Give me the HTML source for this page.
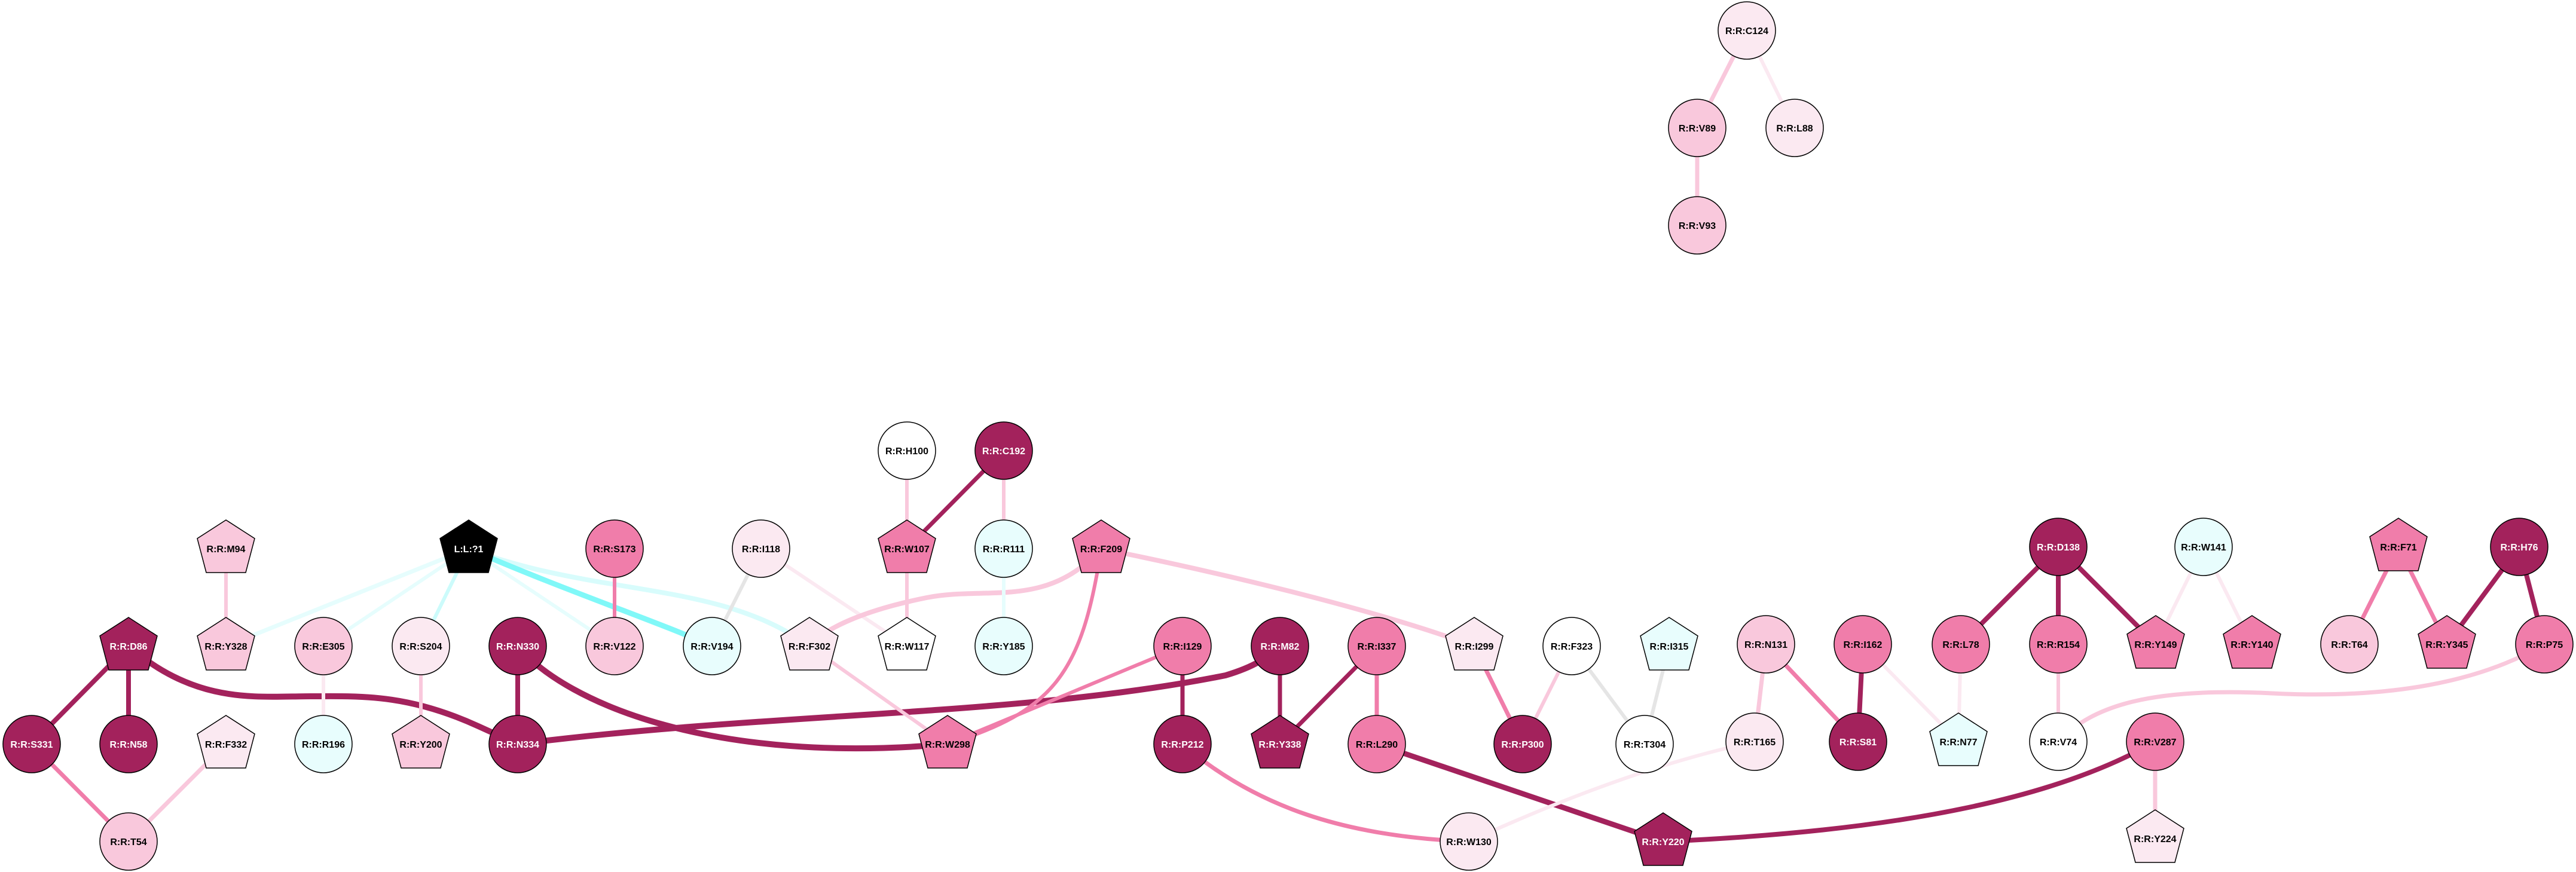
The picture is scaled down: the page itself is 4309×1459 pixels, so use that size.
<!DOCTYPE html>
<html><head><meta charset="utf-8"><style>
html,body{margin:0;padding:0;background:#fff}
svg{display:block}
text{font-family:"Liberation Sans",Arial,sans-serif;font-weight:bold;font-size:16px;text-anchor:middle}
.w{fill:#fff}
</style></head><body>
<svg width="4309" height="1459" viewBox="0 0 4309 1459" xmlns="http://www.w3.org/2000/svg">
<defs>
<polygon id="p" points="0,-48 48,-17 33,40 -33,40 -48,-17" stroke="#000" stroke-width="1.5"/>
</defs>
<g fill="none" stroke-linecap="butt">
<!-- ligand edges -->
<line x1="784" y1="918" x2="378" y2="1081" stroke="#e6fdfd" stroke-width="7"/>
<line x1="784" y1="918" x2="541" y2="1081" stroke="#e6fdfd" stroke-width="6"/>
<line x1="784" y1="918" x2="704" y2="1081" stroke="#ccfbfb" stroke-width="6"/>
<line x1="784" y1="918" x2="1028" y2="1081" stroke="#e6fdfd" stroke-width="6"/>
<path d="M784,918 C1000,1000 1200,970 1354,1081" stroke="#d8fcfc" stroke-width="8"/>
<path d="M784,918 C950,990 1100,1040 1191,1081" stroke="#80f8f8" stroke-width="9"/>
<line x1="378" y1="918" x2="378" y2="1081" stroke="#f9c8dc" stroke-width="6"/>
<line x1="1028" y1="918" x2="1028" y2="1081" stroke="#f07daa" stroke-width="6"/>
<line x1="1273" y1="918" x2="1191" y2="1081" stroke="#e5e5e5" stroke-width="6"/>
<line x1="1273" y1="918" x2="1517" y2="1081" stroke="#fbe9f1" stroke-width="6"/>
<line x1="215" y1="1081" x2="53" y2="1245" stroke="#a3225c" stroke-width="8"/>
<line x1="215" y1="1081" x2="215" y2="1245" stroke="#a3225c" stroke-width="8"/>
<path d="M215,1081 C330,1180 430,1165 520,1165 C600,1165 680,1160 800,1215 L866,1245" stroke="#a3225c" stroke-width="10"/>
<line x1="866" y1="1081" x2="866" y2="1245" stroke="#a3225c" stroke-width="8"/>
<path d="M866,1081 C950,1180 1200,1280 1585,1245" stroke="#a3225c" stroke-width="10"/>
<path d="M866,1245 C1300,1190 1700,1200 2050,1130 C2100,1115 2120,1100 2141,1081" stroke="#a3225c" stroke-width="10"/>
<line x1="53" y1="1245" x2="215" y2="1408" stroke="#f07daa" stroke-width="7"/>
<line x1="378" y1="1245" x2="215" y2="1408" stroke="#f9c8dc" stroke-width="7"/>
<line x1="541" y1="1081" x2="541" y2="1245" stroke="#fbe9f1" stroke-width="6"/>
<line x1="704" y1="1081" x2="704" y2="1245" stroke="#f9c8dc" stroke-width="6"/>
<line x1="1354" y1="1081" x2="1585" y2="1245" stroke="#f9c8dc" stroke-width="6"/>
<path d="M1842,918 C1750,1020 1650,980 1550,1000 C1450,1020 1380,1050 1354,1081" stroke="#f9c8dc" stroke-width="8"/>
<path d="M1842,918 C2050,960 2300,1020 2466,1081" stroke="#f9c8dc" stroke-width="8"/>
<path d="M1842,918 C1810,1130 1760,1190 1585,1245" stroke="#f07daa" stroke-width="6"/>
<line x1="1978" y1="1081" x2="1585" y2="1245" stroke="#f07daa" stroke-width="6"/>
<line x1="1978" y1="1081" x2="1978" y2="1245" stroke="#a3225c" stroke-width="7"/>
<line x1="2141" y1="1081" x2="2141" y2="1245" stroke="#a3225c" stroke-width="7"/>
<line x1="2303" y1="1081" x2="2141" y2="1245" stroke="#a3225c" stroke-width="7"/>
<line x1="2303" y1="1081" x2="2303" y2="1245" stroke="#f07daa" stroke-width="7"/>
<line x1="1517" y1="754" x2="1517" y2="918" stroke="#f9c8dc" stroke-width="6"/>
<line x1="1679" y1="754" x2="1517" y2="918" stroke="#a3225c" stroke-width="7"/>
<line x1="1679" y1="754" x2="1679" y2="918" stroke="#f9c8dc" stroke-width="6"/>
<line x1="1517" y1="918" x2="1517" y2="1081" stroke="#f9c8dc" stroke-width="6"/>
<line x1="1679" y1="918" x2="1679" y2="1081" stroke="#e6fdfd" stroke-width="6"/>
<line x1="2466" y1="1081" x2="2547" y2="1245" stroke="#f07daa" stroke-width="7"/>
<line x1="2629" y1="1081" x2="2547" y2="1245" stroke="#f9c8dc" stroke-width="6"/>
<line x1="2629" y1="1081" x2="2751" y2="1245" stroke="#e5e5e5" stroke-width="6"/>
<line x1="2792" y1="1081" x2="2751" y2="1245" stroke="#e5e5e5" stroke-width="6"/>
<path d="M1978,1245 C2100,1350 2250,1400 2457,1408" stroke="#f07daa" stroke-width="7"/>
<line x1="2303" y1="1245" x2="2782" y2="1408" stroke="#a3225c" stroke-width="9"/>
<path d="M2457,1408 C2650,1320 2800,1270 2935,1241" stroke="#fbe9f1" stroke-width="6"/>
<path d="M2782,1408 C3200,1390 3450,1330 3605,1241" stroke="#a3225c" stroke-width="8"/>
<line x1="2922" y1="51" x2="2839" y2="214" stroke="#f9c8dc" stroke-width="7"/>
<line x1="2922" y1="51" x2="3002" y2="214" stroke="#fbe9f1" stroke-width="6"/>
<line x1="2839" y1="214" x2="2839" y2="377" stroke="#f9c8dc" stroke-width="7"/>
<line x1="2954" y1="1078" x2="2935" y2="1241" stroke="#f9c8dc" stroke-width="7"/>
<line x1="2954" y1="1078" x2="3108" y2="1241" stroke="#f07daa" stroke-width="7"/>
<line x1="3116" y1="1078" x2="3108" y2="1241" stroke="#a3225c" stroke-width="8"/>
<line x1="3116" y1="1078" x2="3276" y2="1241" stroke="#fbe9f1" stroke-width="6"/>
<line x1="3280" y1="1078" x2="3276" y2="1241" stroke="#fbe9f1" stroke-width="6"/>
<line x1="3443" y1="915" x2="3280" y2="1078" stroke="#a3225c" stroke-width="8"/>
<line x1="3443" y1="915" x2="3443" y2="1078" stroke="#a3225c" stroke-width="8"/>
<line x1="3443" y1="915" x2="3606" y2="1078" stroke="#a3225c" stroke-width="8"/>
<line x1="3443" y1="1078" x2="3443" y2="1241" stroke="#f9c8dc" stroke-width="6"/>
<line x1="3686" y1="915" x2="3606" y2="1078" stroke="#fbe9f1" stroke-width="6"/>
<line x1="3686" y1="915" x2="3767" y2="1078" stroke="#fbe9f1" stroke-width="6"/>
<line x1="4012" y1="915" x2="3930" y2="1078" stroke="#f07daa" stroke-width="7"/>
<line x1="4012" y1="915" x2="4093" y2="1078" stroke="#f07daa" stroke-width="7"/>
<line x1="4214" y1="915" x2="4093" y2="1078" stroke="#a3225c" stroke-width="8"/>
<line x1="4214" y1="915" x2="4256" y2="1078" stroke="#a3225c" stroke-width="8"/>
<path d="M4256,1078 C4150,1140 4000,1170 3800,1160 C3600,1150 3500,1180 3443,1241" stroke="#f9c8dc" stroke-width="7"/>
<line x1="3605" y1="1241" x2="3605" y2="1403" stroke="#f9c8dc" stroke-width="7"/>
</g>
<g stroke="#000" stroke-width="1.5">
<!-- circles -->
<circle cx="1028" cy="918" r="48" fill="#f07daa"/>
<circle cx="1273" cy="918" r="48" fill="#fbe9f1"/>
<circle cx="541" cy="1081" r="48" fill="#f9c8dc"/>
<circle cx="704" cy="1081" r="48" fill="#fbe9f1"/>
<circle cx="866" cy="1081" r="48" fill="#a3225c"/>
<circle cx="1028" cy="1081" r="48" fill="#f9c8dc"/>
<circle cx="1191" cy="1081" r="48" fill="#e8fdfd"/>
<circle cx="53" cy="1245" r="48" fill="#a3225c"/>
<circle cx="215" cy="1245" r="48" fill="#a3225c"/>
<circle cx="541" cy="1245" r="48" fill="#e8fdfd"/>
<circle cx="866" cy="1245" r="48" fill="#a3225c"/>
<circle cx="215" cy="1408" r="48" fill="#f9c8dc"/>
<circle cx="1517" cy="754" r="48" fill="#fff"/>
<circle cx="1679" cy="754" r="48" fill="#a3225c"/>
<circle cx="1679" cy="918" r="48" fill="#e8fdfd"/>
<circle cx="1679" cy="1081" r="48" fill="#e8fdfd"/>
<circle cx="1978" cy="1081" r="48" fill="#f07daa"/>
<circle cx="2141" cy="1081" r="48" fill="#a3225c"/>
<circle cx="2303" cy="1081" r="48" fill="#f07daa"/>
<circle cx="2629" cy="1081" r="48" fill="#fff"/>
<circle cx="1978" cy="1245" r="48" fill="#a3225c"/>
<circle cx="2303" cy="1245" r="48" fill="#f07daa"/>
<circle cx="2547" cy="1245" r="48" fill="#a3225c"/>
<circle cx="2751" cy="1245" r="48" fill="#fff"/>
<circle cx="2457" cy="1408" r="48" fill="#fbe9f1"/>
<circle cx="2922" cy="51" r="48" fill="#fbe9f1"/>
<circle cx="2839" cy="214" r="48" fill="#f9c8dc"/>
<circle cx="3002" cy="214" r="48" fill="#fbe9f1"/>
<circle cx="2839" cy="377" r="48" fill="#f9c8dc"/>
<circle cx="3443" cy="915" r="48" fill="#a3225c"/>
<circle cx="3686" cy="915" r="48" fill="#e8fdfd"/>
<circle cx="4214" cy="915" r="48" fill="#a3225c"/>
<circle cx="2954" cy="1078" r="48" fill="#f9c8dc"/>
<circle cx="3116" cy="1078" r="48" fill="#f07daa"/>
<circle cx="3280" cy="1078" r="48" fill="#f07daa"/>
<circle cx="3443" cy="1078" r="48" fill="#f07daa"/>
<circle cx="3930" cy="1078" r="48" fill="#f9c8dc"/>
<circle cx="4256" cy="1078" r="48" fill="#f07daa"/>
<circle cx="2935" cy="1241" r="48" fill="#fbe9f1"/>
<circle cx="3108" cy="1241" r="48" fill="#a3225c"/>
<circle cx="3443" cy="1241" r="48" fill="#fff"/>
<circle cx="3605" cy="1241" r="48" fill="#f07daa"/>
</g>
<!-- pentagons -->
<use href="#p" x="378" y="918" fill="#f9c8dc"/>
<use href="#p" x="784" y="918" fill="#000"/>
<use href="#p" x="215" y="1081" fill="#a3225c"/>
<use href="#p" x="378" y="1081" fill="#f9c8dc"/>
<use href="#p" x="1354" y="1081" fill="#fbe9f1"/>
<use href="#p" x="378" y="1245" fill="#fbe9f1"/>
<use href="#p" x="704" y="1245" fill="#f9c8dc"/>
<use href="#p" x="1517" y="918" fill="#f07daa"/>
<use href="#p" x="1842" y="918" fill="#f07daa"/>
<use href="#p" x="1517" y="1081" fill="#fff"/>
<use href="#p" x="2466" y="1081" fill="#fbe9f1"/>
<use href="#p" x="2792" y="1081" fill="#e8fdfd"/>
<use href="#p" x="1585" y="1245" fill="#f07daa"/>
<use href="#p" x="2141" y="1245" fill="#a3225c"/>
<use href="#p" x="2782" y="1408" fill="#a3225c"/>
<use href="#p" x="4012" y="915" fill="#f07daa"/>
<use href="#p" x="3606" y="1078" fill="#f07daa"/>
<use href="#p" x="3767" y="1078" fill="#f07daa"/>
<use href="#p" x="4093" y="1078" fill="#f07daa"/>
<use href="#p" x="3276" y="1241" fill="#e8fdfd"/>
<use href="#p" x="3605" y="1403" fill="#fbe9f1"/>
<!-- labels -->
<g>
<text x="378" y="924">R:R:M94</text>
<text x="784" y="924" class="w">L:L:?1</text>
<text x="1028" y="924">R:R:S173</text>
<text x="1273" y="924">R:R:I118</text>
<text x="215" y="1087" class="w">R:R:D86</text>
<text x="378" y="1087">R:R:Y328</text>
<text x="541" y="1087">R:R:E305</text>
<text x="704" y="1087">R:R:S204</text>
<text x="866" y="1087" class="w">R:R:N330</text>
<text x="1028" y="1087">R:R:V122</text>
<text x="1191" y="1087">R:R:V194</text>
<text x="1354" y="1087">R:R:F302</text>
<text x="53" y="1251" class="w">R:R:S331</text>
<text x="215" y="1251" class="w">R:R:N58</text>
<text x="378" y="1251">R:R:F332</text>
<text x="541" y="1251">R:R:R196</text>
<text x="704" y="1251">R:R:Y200</text>
<text x="866" y="1251" class="w">R:R:N334</text>
<text x="215" y="1414">R:R:T54</text>
<text x="1517" y="760">R:R:H100</text>
<text x="1679" y="760" class="w">R:R:C192</text>
<text x="1517" y="924">R:R:W107</text>
<text x="1679" y="924">R:R:R111</text>
<text x="1842" y="924">R:R:F209</text>
<text x="1517" y="1087">R:R:W117</text>
<text x="1679" y="1087">R:R:Y185</text>
<text x="1978" y="1087">R:R:I129</text>
<text x="2141" y="1087" class="w">R:R:M82</text>
<text x="2303" y="1087">R:R:I337</text>
<text x="2466" y="1087">R:R:I299</text>
<text x="2629" y="1087">R:R:F323</text>
<text x="2792" y="1087">R:R:I315</text>
<text x="1585" y="1251">R:R:W298</text>
<text x="1978" y="1251" class="w">R:R:P212</text>
<text x="2141" y="1251" class="w">R:R:Y338</text>
<text x="2303" y="1251">R:R:L290</text>
<text x="2547" y="1251" class="w">R:R:P300</text>
<text x="2751" y="1251">R:R:T304</text>
<text x="2457" y="1414">R:R:W130</text>
<text x="2782" y="1414" class="w">R:R:Y220</text>
<text x="2922" y="57">R:R:C124</text>
<text x="2839" y="220">R:R:V89</text>
<text x="3002" y="220">R:R:L88</text>
<text x="2839" y="383">R:R:V93</text>
<text x="3443" y="921" class="w">R:R:D138</text>
<text x="3686" y="921">R:R:W141</text>
<text x="4012" y="921">R:R:F71</text>
<text x="4214" y="921" class="w">R:R:H76</text>
<text x="2954" y="1084">R:R:N131</text>
<text x="3116" y="1084">R:R:I162</text>
<text x="3280" y="1084">R:R:L78</text>
<text x="3443" y="1084">R:R:R154</text>
<text x="3606" y="1084">R:R:Y149</text>
<text x="3767" y="1084">R:R:Y140</text>
<text x="3930" y="1084">R:R:T64</text>
<text x="4093" y="1084">R:R:Y345</text>
<text x="4256" y="1084">R:R:P75</text>
<text x="2935" y="1247">R:R:T165</text>
<text x="3108" y="1247" class="w">R:R:S81</text>
<text x="3276" y="1247">R:R:N77</text>
<text x="3443" y="1247">R:R:V74</text>
<text x="3605" y="1247">R:R:V287</text>
<text x="3605" y="1409">R:R:Y224</text>
</g>
</svg>
</body></html>
